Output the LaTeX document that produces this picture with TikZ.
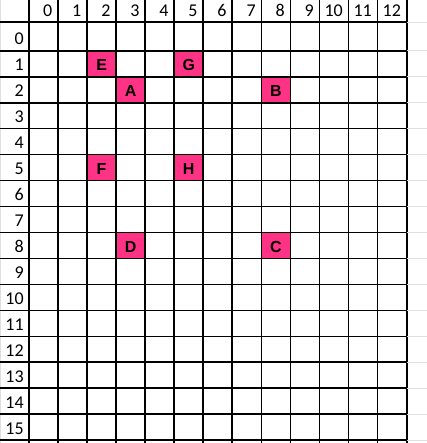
\documentclass[tikz,border=0pt]{standalone}
\usepackage{fontspec}
\setmainfont{Carlito}
\newfontfamily\cellfont{Liberation Sans}
\definecolor{cellpink}{RGB}{255,51,133}

\begin{document}
\begin{tikzpicture}[x=0.75pt, y=-0.75pt
    , gridline/.style={line width=1.3pt}
    , faintline/.style={line width=0.9pt, gray!25}
    , headnum/.style={anchor=base east, inner sep=0pt, font=\fontsize{13.5}{14}\selectfont}
    , marked/.style={anchor=base, inner sep=0pt, font=\cellfont\bfseries\fontsize{12}{14}\selectfont}
    ]
    \useasboundingbox (0,0) rectangle (427,443);
    \fill[white] (0,0) rectangle (427,443);
    \draw[faintline] (0.5,0) -- (0.5,443);
    % marked cells
    \foreach \ci/\ri/\lbl in {2/1/E, 5/1/G, 3/2/A, 8/2/B, 2/5/F, 5/5/H, 3/8/D, 8/8/C} {
      \pgfmathsetmacro\xl{29+29.05*\ci}
      \pgfmathsetmacro\yt{50.7+25.97*(\ri-1)}
      \fill[cellpink] (\xl,\yt) rectangle ++(29.05,25.97);
      \node[marked] (cell\lbl) at (\xl+14.5,\yt+20) {\lbl};
    }
    % grid
    \foreach \ci in {0,...,13}
      \draw[gridline] ({29+29.05*\ci},0) -- ({29+29.05*\ci},443);
    \draw[gridline] (0,22.3) -- (406.6,22.3);
    \draw[faintline] (406.6,22.3) -- (427,22.3);
    \foreach \ri in {0,...,15} {
      \draw[gridline] (0,{50.7+25.97*\ri}) -- (406.6,{50.7+25.97*\ri});
      \draw[faintline] (406.6,{50.7+25.97*\ri}) -- (427,{50.7+25.97*\ri});
    }
    % headers
    \foreach \ci in {0,...,12}
      \node[headnum] (col\ci) at ({29+29.05*(\ci+1)-5.5},16) {\ci};
    \node[headnum] (row0) at (24,44) {0};
    \foreach \ri in {1,...,15}
      \node[headnum] (row\ri) at (24,{50.7+25.97*\ri-5.8}) {\ri};
  \end{tikzpicture}
\end{document}
